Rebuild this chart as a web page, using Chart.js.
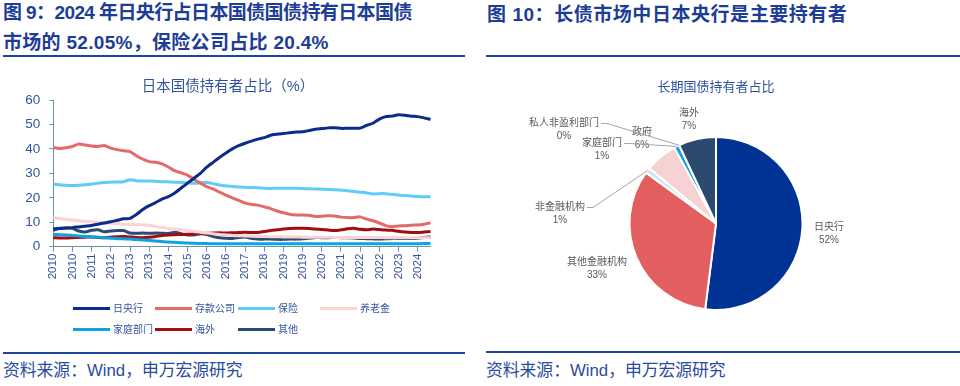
<!DOCTYPE html>
<html lang="zh">
<head>
<meta charset="utf-8">
<script src="https://cdn.jsdelivr.net/npm/chart.js@4.4.1/dist/chart.umd.min.js"></script>
<style>
  html, body { margin: 0; padding: 0; background: #fff; }
  #page { position: relative; width: 960px; height: 386px; overflow: hidden;
          font-family: "Liberation Sans", "Noto Sans CJK SC", sans-serif; }
  .head { position: absolute; color: #1d3d96; font-weight: bold; font-size: 19px;
          line-height: 30px; white-space: nowrap; }
  .rule { position: absolute; height: 2px; background: #1f44a0; }
  .src  { position: absolute; color: #2a4b9e; font-size: 16.8px; line-height: 20px; white-space: nowrap; }
  .box  { position: absolute; }
</style>
</head>
<body>
<div id="page">
  <div class="head" style="left:3px;top:-2px"><span style="letter-spacing:-0.6px">图 9：2024 年日央行占日本国债国债持有日本国债</span><br><span style="letter-spacing:0.3px">市场的 52.05%，保险公司占比 20.4%</span></div>
  <div class="rule" style="left:3px;top:55px;width:462px"></div>
  <div class="head" style="left:487px;top:0px;letter-spacing:0.55px">图 10：长债市场中日本央行是主要持有者</div>
  <div class="rule" style="left:486px;top:55px;width:474px"></div>

  <div class="box" style="left:0;top:62px;width:465px;height:288px"><canvas id="lineChart"></canvas></div>
  <div class="box" style="left:480px;top:62px;width:480px;height:288px"><canvas id="pieChart"></canvas></div>

  <div class="rule" style="left:3px;top:351.5px;width:462px"></div>
  <div class="rule" style="left:486px;top:351px;width:474px"></div>
  <div class="src" style="left:3px;top:361px">资料来源：Wind，申万宏源研究</div>
  <div class="src" style="left:486px;top:361px">资料来源：Wind，申万宏源研究</div>
</div>

<script>
  /* ========================
       DATA
    =========================*/
  // quarterly, 2010Q1 .. 2024Q4
  const quarters = [
    '2010Q1','2010Q2','2010Q3','2010Q4','2011Q1','2011Q2','2011Q3','2011Q4',
    '2012Q1','2012Q2','2012Q3','2012Q4','2013Q1','2013Q2','2013Q3','2013Q4',
    '2014Q1','2014Q2','2014Q3','2014Q4','2015Q1','2015Q2','2015Q3','2015Q4',
    '2016Q1','2016Q2','2016Q3','2016Q4','2017Q1','2017Q2','2017Q3','2017Q4',
    '2018Q1','2018Q2','2018Q3','2018Q4','2019Q1','2019Q2','2019Q3','2019Q4',
    '2020Q1','2020Q2','2020Q3','2020Q4','2021Q1','2021Q2','2021Q3','2021Q4',
    '2022Q1','2022Q2','2022Q3','2022Q4','2023Q1','2023Q2','2023Q3','2023Q4',
    '2024Q1','2024Q2','2024Q3','2024Q4'
  ];

  const seriesNames = ['日央行', '存款公司', '保险', '养老金', '家庭部门', '海外', '其他'];

  const boj = [
    7.3, 7.5, 7.6, 7.8, 8.1, 8.4, 8.7, 9.2, 9.7, 10.2,
    10.8, 11.4, 11.6, 13.2, 15.2, 16.8, 18.0, 19.5, 20.5, 22.0,
    24.0, 26.0, 28.0, 30.0, 32.5, 34.5, 36.5, 38.3, 40.0, 41.3,
    42.3, 43.2, 44.0, 44.6, 45.6, 46.0, 46.3, 46.6, 46.9, 47.0,
    47.5, 48.0, 48.3, 48.6, 48.6, 48.4, 48.4, 48.4, 48.5, 49.6,
    50.5, 52.2, 53.2, 53.4, 54.0, 53.8, 53.4, 53.2, 52.7, 52.05
  ];
  const deposit = [
    40.6, 40.2, 40.5, 41.0, 42.0, 41.6, 41.2, 41.0, 41.4, 40.3,
    39.7, 39.2, 38.9, 37.2, 35.8, 34.8, 34.5, 33.9, 32.6, 31.0,
    30.2, 29.3, 27.6, 26.0, 24.6, 23.6, 22.3, 21.1, 20.0, 18.9,
    17.8, 17.3, 17.0, 16.3, 15.6, 14.6, 13.9, 13.3, 13.0, 13.0,
    12.9, 12.4, 12.5, 12.7, 12.6, 12.1, 11.9, 11.9, 12.2, 11.3,
    10.6, 9.7, 8.6, 8.2, 8.5, 8.6, 8.8, 8.9, 9.2, 9.8
  ];
  const insurance = [
    25.5, 25.3, 25.1, 25.0, 25.1, 25.3, 25.6, 26.0, 26.3, 26.4,
    26.5, 26.6, 27.4, 27.0, 26.9, 26.9, 26.8, 26.6, 26.5, 26.4,
    26.3, 26.1, 25.9, 26.1, 26.3, 25.8, 25.2, 24.9, 24.6, 24.4,
    24.3, 24.2, 24.1, 23.9, 23.8, 23.9, 23.9, 23.9, 23.9, 23.8,
    23.7, 23.6, 23.5, 23.4, 23.3, 23.1, 22.9, 22.6, 22.3, 22.0,
    21.6, 21.7, 21.7, 21.4, 21.1, 20.9, 20.7, 20.5, 20.4, 20.4
  ];
  const pension = [
    11.8, 11.5, 11.2, 10.9, 10.6, 10.4, 10.2, 10.0, 9.8, 9.6,
    9.4, 9.2, 9.1, 9.0, 8.9, 8.8, 8.3, 7.9, 7.5, 7.2,
    6.9, 6.6, 6.2, 5.9, 5.6, 5.3, 5.0, 4.8, 4.6, 4.5,
    4.4, 4.3, 4.2, 4.2, 4.1, 4.1, 4.0, 4.0, 4.0, 3.9,
    3.9, 3.9, 3.9, 3.9, 3.8, 3.8, 3.8, 3.8, 3.8, 3.8,
    3.8, 3.8, 3.7, 3.7, 3.7, 3.7, 3.7, 3.7, 3.7, 3.7
  ];
  const household = [
    5.0, 4.9, 4.8, 4.6, 4.4, 4.2, 4.0, 3.9, 3.7, 3.5,
    3.3, 3.2, 3.1, 2.9, 2.7, 2.5, 2.3, 2.1, 1.9, 1.8,
    1.6, 1.5, 1.4, 1.3, 1.3, 1.2, 1.2, 1.2, 1.2, 1.2,
    1.2, 1.2, 1.2, 1.2, 1.2, 1.2, 1.2, 1.2, 1.2, 1.2,
    1.2, 1.2, 1.2, 1.2, 1.2, 1.2, 1.2, 1.2, 1.2, 1.2,
    1.2, 1.2, 1.2, 1.2, 1.2, 1.2, 1.2, 1.2, 1.3, 1.3
  ];
  const overseas = [
    3.7, 3.6, 3.6, 3.7, 3.8, 3.9, 4.0, 3.8, 3.7, 3.9,
    4.1, 4.2, 4.0, 3.8, 3.7, 3.9, 4.2, 4.6, 4.8, 4.9,
    5.0, 5.1, 5.3, 5.4, 5.5, 5.6, 5.7, 5.6, 5.7, 5.8,
    5.9, 5.8, 5.8, 6.2, 6.6, 6.9, 7.2, 7.4, 7.5, 7.5,
    7.4, 7.2, 7.0, 6.8, 6.6, 6.9, 7.3, 7.5, 7.1, 6.9,
    7.2, 7.0, 6.8, 6.7, 6.3, 6.0, 5.8, 5.8, 6.0, 6.2
  ];
  const others = [
    6.8, 7.4, 7.6, 7.5, 6.4, 6.0, 6.7, 6.9, 6.1, 6.4,
    6.6, 6.6, 5.6, 5.5, 5.6, 5.5, 5.6, 5.5, 5.4, 5.9,
    5.3, 4.8, 4.8, 5.3, 5.0, 4.2, 3.7, 3.5, 3.4, 3.8,
    4.0, 3.4, 3.1, 3.1, 3.1, 3.0, 3.0, 3.1, 3.1, 3.2,
    3.5, 3.8, 3.7, 3.7, 3.8, 3.7, 3.7, 3.6, 3.4, 3.3,
    3.2, 3.1, 3.2, 3.4, 3.4, 3.4, 3.4, 3.5, 3.8, 4.0
  ];

  const yTicks = [0, 10, 20, 30, 40, 50, 60];

  const pieLabels = ['日央行', '其他金融机构', '非金融机构', '政府', '家庭部门', '私人非盈利部门', '海外'];
  const pieValues = [52, 33, 1, 6, 1, 0, 7];

  /* ========================
       STYLE
    =========================*/
  const FONT = '"Liberation Sans", "Noto Sans CJK SC", sans-serif';
  Chart.defaults.font.family = FONT;

  const lineColors = ['#0a2d8c', '#e46a6a', '#5dcdf7', '#fad3d3', '#0ba3e0', '#a30d12', '#2d4b70'];
  const pieColors = ['#003394', '#e35e5f', '#c5e6f5', '#f6d2d2', '#0ea2e1', '#7f7f7f', '#2c4a6f'];
  const axisColor = '#6b93a6';
  const tickColor = '#35539f';

  // legend grid (canvas px)
  const legendCols = [73, 155, 238, 320];
  const legendRows = [246.5, 267.5];

  // pie label anchors: offset from pie centre, and whether a leader line is drawn
  const pieLabelPos = [
    [113, 3.5, false],
    [-119, 38.5, false],
    [-156, -16.5, true],
    [-74, -91.5, false],
    [-114, -80.5, true],
    [-152, -100.5, true],
    [-27, -110.5, false]
  ];

  /* ========================
       LINE CHART
    =========================*/
  const lineDecor = {
    id: 'lineDecor',
    afterDraw(chart) {
      const ctx = chart.ctx;
      ctx.save();
      ctx.fillStyle = '#2f52a3';
      ctx.font = '14.5px ' + FONT;
      ctx.textAlign = 'center';
      ctx.textBaseline = 'middle';
      ctx.fillText('日本国债持有者占比（%）', 228, 25);

      ctx.font = '10px ' + FONT;
      ctx.textAlign = 'left';
      chart.data.datasets.forEach((ds, i) => {
        const x = legendCols[i % 4];
        const y = legendRows[Math.floor(i / 4)];
        ctx.strokeStyle = ds.borderColor;
        ctx.lineWidth = 3;
        ctx.beginPath();
        ctx.moveTo(x, y);
        ctx.lineTo(x + 37, y);
        ctx.stroke();
        ctx.fillStyle = '#35539f';
        ctx.fillText(ds.label, x + 40, y + 0.5);
      });
      ctx.restore();
    }
  };

  const lineSeries = [boj, deposit, insurance, pension, household, overseas, others];

  new Chart(document.getElementById('lineChart'), {
    type: 'line',
    data: {
      labels: quarters,
      datasets: lineSeries.map((d, i) => ({
        label: seriesNames[i],
        data: d,
        borderColor: lineColors[i],
        backgroundColor: lineColors[i],
        borderWidth: 3,
        pointRadius: 0,
        tension: 0.2,
        fill: false
      }))
    },
    options: {
      responsive: true,
      maintainAspectRatio: false,
      animation: false,
      layout: { padding: { top: 38, right: 34.5, bottom: 53.3, left: 0 } },
      plugins: {
        legend: { display: false },
        title: { display: false },
        tooltip: { enabled: false }
      },
      scales: {
        x: {
          offset: false,
          border: { display: true, color: axisColor, width: 1 },
          grid: { display: true, drawOnChartArea: false, drawTicks: true, tickLength: 5, color: axisColor },
          ticks: {
            autoSkip: false,
            minRotation: 90,
            maxRotation: 90,
            padding: 2,
            color: tickColor,
            font: { size: 11.5 },
            callback: function (value, index) {
              return index % 3 === 0 ? this.getLabelForValue(value).slice(0, 4) : null;
            }
          },
          afterFit: s => { s.height = 50; }
        },
        y: {
          min: 0,
          max: 60,
          border: { display: true, color: axisColor, width: 1 },
          grid: { display: true, drawOnChartArea: false, drawTicks: true, tickLength: 4, color: axisColor },
          afterBuildTicks: s => { s.ticks = yTicks.map(v => ({ value: v })); },
          ticks: {
            padding: 9,
            color: tickColor,
            font: { size: 13.5 }
          },
          afterFit: s => { s.width = 53.3; }
        }
      }
    },
    plugins: [lineDecor]
  });

  /* ==========================
       PIE CHART
    ===========================*/
  const pieDecor = {
    id: 'pieDecor',
    afterDatasetsDraw(chart) {
      const ctx = chart.ctx;
      const arcs = chart.getDatasetMeta(0).data;
      ctx.save();

      // title
      const ca = chart.chartArea;
      ctx.fillStyle = '#2f52a3';
      ctx.font = '13px ' + FONT;
      ctx.textAlign = 'center';
      ctx.textBaseline = 'middle';
      ctx.fillText('长期国债持有者占比', (ca.left + ca.right) / 2, 25);

      ctx.font = '10px ' + FONT;
      arcs.forEach((arc, i) => {
        const p = pieLabelPos[i];
        const lx = arc.x + p[0];
        const ly = arc.y + p[1];
        if (p[2]) {
          const mid = (arc.startAngle + arc.endAngle) / 2;
          const ex = arc.x + Math.cos(mid) * arc.outerRadius;
          const ey = arc.y + Math.sin(mid) * arc.outerRadius;
          const sx = lx + ctx.measureText(pieLabels[i]).width / 2 + 2;
          ctx.strokeStyle = '#a5a5a5';
          ctx.lineWidth = 1;
          ctx.beginPath();
          ctx.moveTo(sx, ly + 0.5);
          ctx.lineTo(sx + 6, ly + 0.5);
          ctx.lineTo(ex, ey);
          ctx.stroke();
        }
        ctx.fillStyle = '#595959';
        ctx.fillText(pieLabels[i], lx, ly);
        ctx.fillText(pieValues[i] + '%', lx, ly + 13);
      });
      ctx.restore();
    }
  };

  new Chart(document.getElementById('pieChart'), {
    type: 'pie',
    data: {
      labels: pieLabels,
      datasets: [{
        data: pieValues,
        backgroundColor: pieColors,
        borderColor: '#ffffff',
        borderWidth: 2
      }]
    },
    options: {
      responsive: true,
      maintainAspectRatio: false,
      animation: false,
      layout: { padding: { top: 74, right: 156.5, bottom: 39, left: 148.5 } },
      plugins: {
        legend: { display: false },
        title: { display: false },
        tooltip: { enabled: false }
      }
    },
    plugins: [pieDecor]
  });
</script>
</body>
</html>
